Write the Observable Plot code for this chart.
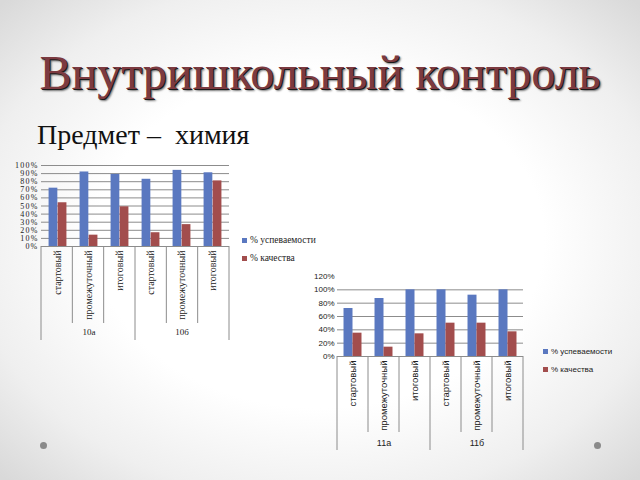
<!DOCTYPE html>
<html><head><meta charset="utf-8">
<script src="https://cdn.jsdelivr.net/npm/d3@7"></script>
<script src="https://cdn.jsdelivr.net/npm/@observablehq/plot@0.6"></script>
<style>
body{margin:0;}
#slide{position:relative;width:640px;height:480px;overflow:hidden;
 background:radial-gradient(ellipse 70% 70% at 50% 50%, #ffffff 50%, #efefef 78%, #d9d9d9 100%);}
#title{position:absolute;left:0;top:45px;width:640px;text-align:center;font-family:"Liberation Serif","DejaVu Serif",serif;
 font-size:48px;color:#7c3a40;white-space:nowrap;text-shadow:1px 1px 0 #1a1a1a,2px 2px 2px rgba(0,0,0,0.55);}
#subtitle{position:absolute;left:37px;top:119px;font-family:"Liberation Serif",serif;font-size:28px;color:#111;white-space:pre;}
.chart{position:absolute;}
#c1 g[aria-label="y-axis tick label"] text{letter-spacing:1.2px;}
.legend{position:absolute;color:#222;line-height:18px;white-space:nowrap;}
.legend span.sw{display:inline-block;width:5px;height:5px;margin-right:3px;vertical-align:middle;}
.dot{position:absolute;width:7px;height:7px;border-radius:50%;background:#8a8a8a;}
</style></head><body>
<div id="slide">
 <div id="title">Внутришкольный контроль</div>
 <div id="subtitle">Предмет –  химия</div>
 <div id="c1" class="chart" style="left:0px;top:155px"></div>
 <div id="c2" class="chart" style="left:300px;top:265px"></div>
 <div id="l1" class="legend" style="left:242px;top:231px;font-size:9.5px;font-family:'Liberation Serif',serif;"></div>
 <div id="l2" class="legend" style="left:543px;top:343px;font-size:8px;font-family:'Liberation Sans',sans-serif;"></div>
 <div class="dot" style="left:40px;top:442px"></div>
 <div class="dot" style="left:594px;top:442px"></div>
</div>
<script>
const stages = ["стартовый", "промежуточный", "итоговый"];
const seriesNames = ["% успеваемости", "% качества"];
const seriesColors = ["#5a78c0", "#a24d4d"];

const classes1 = ["10а", "10б"];
const success1 = [0.72, 0.92, 0.89, 0.83, 0.94, 0.91];
const quality1 = [0.54, 0.14, 0.49, 0.17, 0.27, 0.81];
const yTicks1 = [0, 0.1, 0.2, 0.3, 0.4, 0.5, 0.6, 0.7, 0.8, 0.9, 1.0];

const classes2 = ["11а", "11б"];
const success2 = [0.72, 0.87, 1.00, 1.00, 0.92, 1.00];
const quality2 = [0.35, 0.14, 0.34, 0.50, 0.50, 0.37];
const yTicks2 = [0, 0.2, 0.4, 0.6, 0.8, 1.0, 1.2];

function makeChart(cfg) {
  const {classes, success, quality, yTicks, gridTicks, yMax, font, tickFont, labelFont, width, height,
         ml, mr, mt, mb, groupDy, shortLen, longLen} = cfg;
  const cats = classes.flatMap(c => stages.map(s => c + "|" + s));
  const rows = cats.flatMap((id, i) => [
    {id, s: 0, value: success[i]},
    {id, s: 1, value: quality[i]}
  ]);
  const step = (width - ml - mr) / cats.length;
  const barW = step * 0.29;
  const outer = (step - 2 * barW) / 2;
  const groups = classes.map((c, i) => ({c, id: cats[i * stages.length + 1]}));
  const plot = Plot.plot({
    width, height, marginLeft: ml, marginRight: mr, marginTop: mt, marginBottom: mb,
    style: {fontFamily: font, fontSize: "9px", background: "transparent", color: "#222", overflow: "visible"},
    x: {domain: cats, padding: 0, axis: null},
    y: {domain: [0, yMax], axis: null},
    marks: [
      Plot.ruleY(gridTicks, {stroke: "#8c8c8c", strokeWidth: 1}),
      Plot.barY(rows.filter(d => d.s === 0), {x: "id", y: "value", fill: seriesColors[0],
        insetLeft: outer, insetRight: step - outer - barW}),
      Plot.barY(rows.filter(d => d.s === 1), {x: "id", y: "value", fill: seriesColors[1],
        insetLeft: outer + barW, insetRight: outer}),
      Plot.ruleY([0], {stroke: "#8c8c8c", strokeWidth: 1}),
      Plot.axisY({ticks: yTicks, tickFormat: d3.format(".0%"), tickSize: 0, tickPadding: 3, fontSize: tickFont, label: null}),
      Plot.axisX({tickRotate: -90, tickSize: 0, tickPadding: 4, tickFormat: d => d.split("|")[1], fontSize: labelFont, label: null}),
      Plot.text(groups, {x: "id", text: "c", frameAnchor: "bottom", dy: groupDy, fontSize: 9})
    ]
  });
  // category / group separators positioned with the plot's own x scale (band starts)
  const xs = plot.scale("x");
  const band = d3.scaleBand(xs.domain, xs.range).paddingInner(xs.paddingInner ?? 0).paddingOuter(xs.paddingOuter ?? 0);
  const bw = band.bandwidth();
  const y0 = height - mb;
  const g = d3.select(plot).append("g").attr("stroke", "#8c8c8c").attr("stroke-width", 1);
  cats.forEach((id, i) => {
    const x = band(id);
    const len = i % stages.length === 0 ? longLen : shortLen;
    g.append("line").attr("x1", x).attr("x2", x).attr("y1", y0).attr("y2", y0 + len);
  });
  const last = band(cats[cats.length - 1]) + bw;
  g.append("line").attr("x1", last).attr("x2", last).attr("y1", y0).attr("y2", y0 + longLen);
  return plot;
}

document.getElementById("c1").append(makeChart({
  classes: classes1, success: success1, quality: quality1, yTicks: yTicks1,
  gridTicks: yTicks1.slice(1), yMax: 1.0, font: "'Liberation Serif', serif", tickFont: 8, labelFont: 10,
  width: 240, height: 190, ml: 41, mr: 11, mt: 10, mb: 99, groupDy: 88, shortLen: 77, longLen: 94
}));
document.getElementById("c2").append(makeChart({
  classes: classes2, success: success2, quality: quality2, yTicks: yTicks2,
  gridTicks: yTicks2.slice(1, -1), yMax: 1.2, font: "'Liberation Sans', sans-serif", tickFont: 8, labelFont: 9.5,
  width: 240, height: 195, ml: 37, mr: 17, mt: 11, mb: 104, groupDy: 89, shortLen: 76, longLen: 94
}));

function legend(el) {
  el.innerHTML = seriesNames.map((n, i) =>
    `<div><span class="sw" style="background:${seriesColors[i]}"></span>${n}</div>`).join("");
}
legend(document.getElementById("l1"));
legend(document.getElementById("l2"));
</script>
</body></html>
